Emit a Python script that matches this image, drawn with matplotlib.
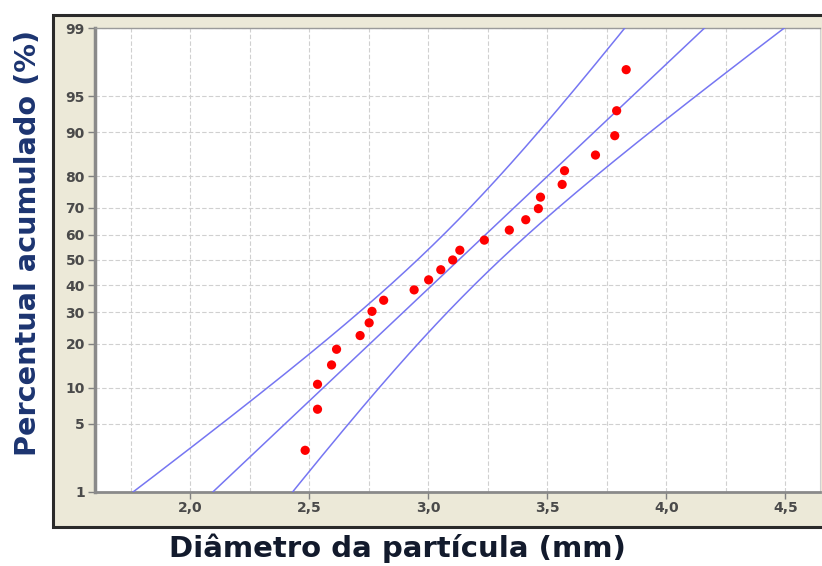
#!/usr/bin/env python3
# Normal probability plot of particle diameters, with fit line and 95% bands

from statistics import NormalDist
import numpy as np
import matplotlib
matplotlib.use('Agg')
import matplotlib.pyplot as plt
from matplotlib.patches import Rectangle
from matplotlib.ticker import FixedLocator, MultipleLocator

# particle diameters (mm), sorted
diameters = [2.482, 2.534, 2.534, 2.593, 2.614, 2.713, 2.751, 2.763, 2.812,
             2.940, 3.001, 3.052, 3.102, 3.132, 3.235, 3.340, 3.409, 3.462,
             3.471, 3.562, 3.572, 3.702, 3.783, 3.791, 3.831]
# cumulative percent of each point
percents = [2.8, 6.7, 10.6, 14.6, 18.5, 22.4, 26.4, 30.3, 34.3, 38.2, 42.1,
            46.1, 50.0, 53.9, 57.9, 61.8, 65.7, 69.7, 73.6, 77.6, 81.5, 85.4,
            89.4, 93.3, 97.2]
y_ticks = [1, 5, 10, 20, 30, 40, 50, 60, 70, 80, 90, 95, 99]
x_ticks = [2.0, 2.5, 3.0, 3.5, 4.0, 4.5]

nd = NormalDist()
_ppf = np.vectorize(nd.inv_cdf, otypes=[float])
_cdf = np.vectorize(nd.cdf, otypes=[float])


def to_z(p):
    p = np.clip(np.asarray(p, dtype=float), 1e-6, 100 - 1e-6)
    return _ppf(p / 100.0)


def from_z(z):
    return _cdf(np.asarray(z, dtype=float)) * 100.0


def main():
    x = np.array(diameters)
    n = len(x)
    mu = x.mean()
    sigma = x.std(ddof=1)

    p_line = np.linspace(0.5, 99.5, 400)
    z = to_z(p_line)
    fit = mu + z * sigma
    half = 1.96 * sigma * np.sqrt(1.0 / n + z ** 2 / (2.0 * n))

    fig = plt.figure(figsize=(8.22, 5.66), dpi=100)
    fig.patch.set_facecolor('white')
    fig.patches.append(Rectangle((0.0645, 0.069), 1.0, 0.9045,
                                 transform=fig.transFigure, facecolor='#ECE9D8',
                                 edgecolor='#2a2a2a', linewidth=2.2, zorder=-1))

    ax = fig.add_axes([0.115, 0.1313, 0.883, 0.8187])
    ax.set_facecolor('white')
    ax.set_yscale('function', functions=(to_z, from_z))

    line_col = '#7676f2'
    ax.plot(fit, p_line, color=line_col, lw=1.1, zorder=3)
    ax.plot(fit - half, p_line, color=line_col, lw=1.1, zorder=3)
    ax.plot(fit + half, p_line, color=line_col, lw=1.1, zorder=3)
    ax.scatter(diameters, percents, s=44, color='#ff0000', edgecolors='none', zorder=4)

    ax.set_xlim(1.597, 4.647)
    ax.set_ylim(1, 99)

    ax.yaxis.set_major_locator(FixedLocator(y_ticks))
    ax.set_yticklabels([str(t) for t in y_ticks])
    ax.yaxis.set_minor_locator(FixedLocator([]))
    ax.xaxis.set_major_locator(FixedLocator(x_ticks))
    ax.set_xticklabels([f'{t:.1f}'.replace('.', ',') for t in x_ticks])
    ax.xaxis.set_minor_locator(MultipleLocator(0.25))

    ax.grid(True, axis='y', which='major', color='#d0d0d0', ls=(0, (4, 2)), lw=0.8)
    ax.grid(True, axis='x', which='both', color='#d0d0d0', ls=(0, (4, 2)), lw=0.8)
    ax.set_axisbelow(True)

    ax.tick_params(axis='both', which='major', direction='out', length=5,
                   width=1, color='#808080', labelcolor='#4a4a4a', labelsize=10, pad=2)
    ax.tick_params(axis='x', which='minor', length=0)
    for lab in ax.get_xticklabels() + ax.get_yticklabels():
        lab.set_fontweight('bold')

    ax.spines['left'].set_color('#8a8a8a')
    ax.spines['left'].set_linewidth(2.5)
    ax.spines['bottom'].set_color('#8a8a8a')
    ax.spines['bottom'].set_linewidth(2)
    ax.spines['top'].set_color('#9a9a9a')
    ax.spines['top'].set_linewidth(1)
    ax.spines['right'].set_color('#d0d0d0')
    ax.spines['right'].set_linewidth(0.8)

    fig.text(0.484, 0.031, 'Diâmetro da partícula (mm)', ha='center', va='center',
             fontsize=21, fontweight='bold', color='#121a2c')
    fig.text(0.034, 0.571, 'Percentual acumulado (%)', ha='center', va='center',
             rotation=90, fontsize=20.7, fontweight='bold', color='#1c3470')

    fig.savefig('out.png', dpi=100)
    return 0


if __name__ == '__main__':
    main()
